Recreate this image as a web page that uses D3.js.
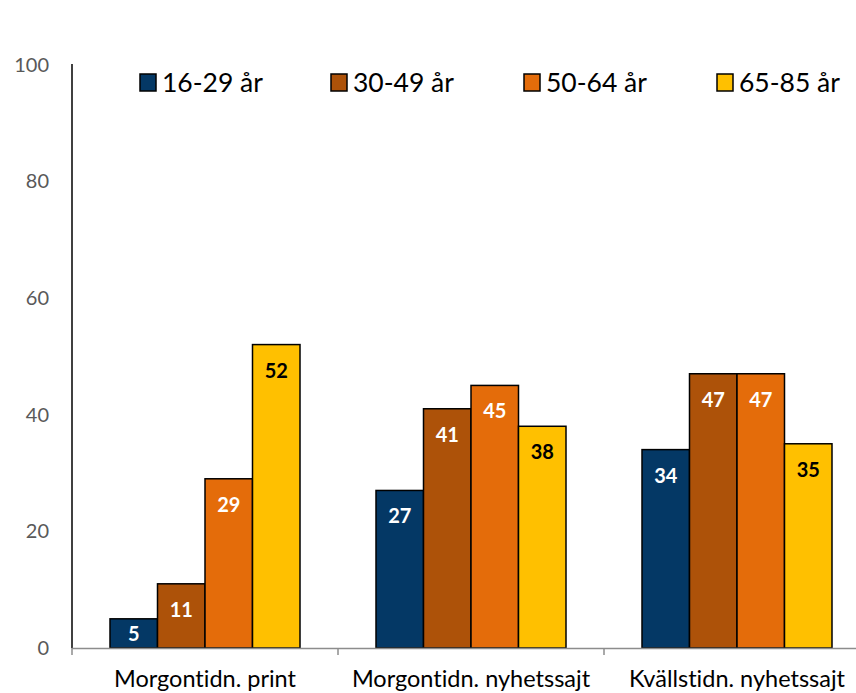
<!DOCTYPE html>
<html><head><meta charset="utf-8">
<script src="https://cdn.jsdelivr.net/npm/d3@7"></script>
<style>body{margin:0;background:#fff}svg{display:block}text{font-variant-ligatures:none;font-feature-settings:"liga" 0}</style>
</head><body><svg id="c" width="856" height="693"></svg>
<script>
const categories = ["Morgontidn. print", "Morgontidn. nyhetssajt", "Kvällstidn. nyhetssajt"];
const seriesNames = ["16-29 år", "30-49 år", "50-64 år", "65-85 år"];
const s1629 = [5, 27, 34];
const s3049 = [11, 41, 47];
const s5064 = [29, 45, 47];
const s6585 = [52, 38, 35];
const yTicks = [0, 20, 40, 60, 80, 100];
const colors = ["#043865", "#ad5209", "#e46c0a", "#ffc000"];
const labelColors = ["#fff", "#fff", "#fff", "#000"];
const seriesVals = [s1629, s3049, s5064, s6585];

const svg = d3.select("#c");
const font = "Lato, 'Open Sans', sans-serif";
const x0 = d3.scaleBand().domain(categories).range([72, 870]).paddingInner(0).paddingOuter(0);
const x1 = d3.scaleBand().domain(seriesNames).range([38, x0.bandwidth() - 38]);
const y = d3.scaleLinear().domain([0, 100]).range([648, 64.5]);

// y axis
svg.append("line").attr("x1", 72).attr("x2", 72).attr("y1", 64).attr("y2", 648)
  .attr("stroke", "#000").attr("stroke-width", 1.5);
svg.selectAll(".yt").data(yTicks).join("text")
  .attr("x", 49).attr("y", d => y(d)).attr("dy", "0.35em").attr("text-anchor", "end")
  .attr("font-family", font).attr("font-size", 20).attr("fill", "#595959").text(d => d);

// bars
const groups = svg.selectAll(".g").data(categories).join("g")
  .attr("transform", d => `translate(${x0(d)},0)`);
seriesNames.forEach((s, si) => {
  groups.append("rect")
    .attr("x", x1(s)).attr("width", x1.bandwidth())
    .attr("y", (d, i) => y(seriesVals[si][i]))
    .attr("height", (d, i) => y(0) - y(seriesVals[si][i]))
    .attr("fill", colors[si]).attr("stroke", "#000").attr("stroke-width", 1.5);
  groups.append("text")
    .attr("x", x1(s) + x1.bandwidth() / 2)
    .attr("y", (d, i) => {
      const top = y(seriesVals[si][i]);
      return Math.min(top + 26, (top + y(0)) / 2 + 1);
    })
    .attr("dy", "0.35em").attr("text-anchor", "middle")
    .attr("font-family", font).attr("font-weight", "bold").attr("font-size", 20)
    .attr("fill", labelColors[si]).text((d, i) => seriesVals[si][i]);
});

// x axis
svg.append("line").attr("x1", 72).attr("x2", 856).attr("y1", 648.5).attr("y2", 648.5)
  .attr("stroke", "#8c8c8c").attr("stroke-width", 1.5);
[0, 1, 2, 3].forEach(i => {
  const xx = 72 + i * x0.bandwidth();
  svg.append("line").attr("x1", xx).attr("x2", xx).attr("y1", 648).attr("y2", 655)
    .attr("stroke", "#8c8c8c").attr("stroke-width", 1.5);
});
svg.selectAll(".xl").data(categories).join("text")
  .attr("x", d => x0(d) + x0.bandwidth() / 2).attr("y", 687)
  .attr("text-anchor", "middle").attr("font-family", font).attr("font-size", 23.5)
  .attr("fill", "#000").text(d => d);

// legend
const legX = [140, 331, 524, 717];
seriesNames.forEach((s, i) => {
  svg.append("rect").attr("x", legX[i]).attr("y", 74).attr("width", 16).attr("height", 17)
    .attr("fill", colors[i]).attr("stroke", "#000").attr("stroke-width", 1.5);
  svg.append("text").attr("x", legX[i] + 22).attr("y", 83).attr("dy", "0.35em")
    .attr("font-family", font).attr("font-size", 26.5).attr("fill", "#000").text(s);
});
</script></body></html>
